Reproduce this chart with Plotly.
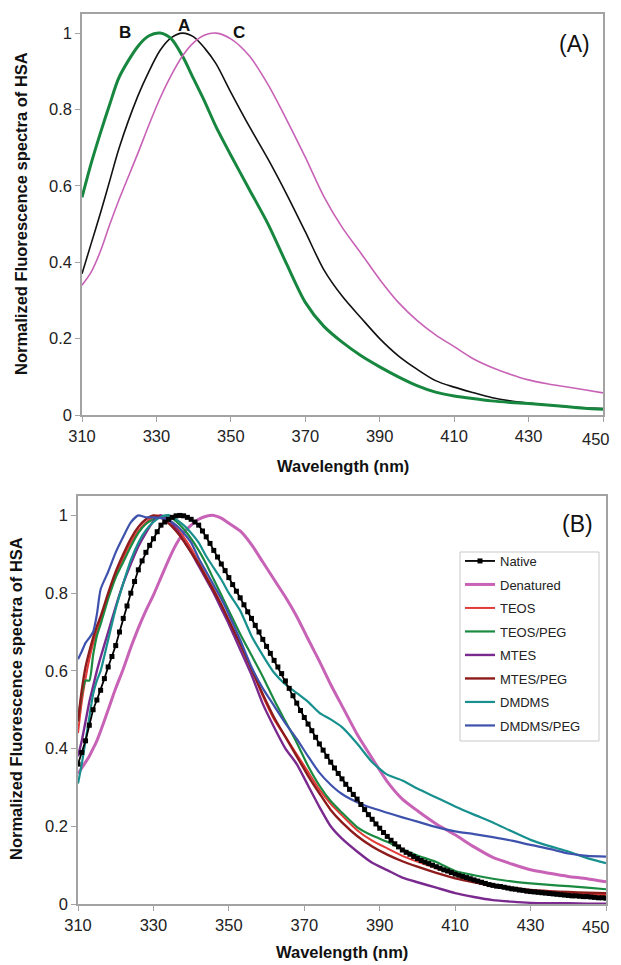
import plotly.graph_objects as go

# ---------------- data ----------------
X_TICKS = [310, 330, 350, 370, 390, 410, 430, 450]
X_TICK_TEXT = ["310", "330", "350", "370", "390", "410", "430", "450"]
Y_TICKS = [0, 0.2, 0.4, 0.6, 0.8, 1]
Y_TICK_TEXT = ["0", "0.2", "0.4", "0.6", "0.8", "1"]

# Panel (A)
WL_TOP = [310, 312.5, 315, 317.5, 320, 325, 328, 331, 334, 337, 340, 343, 346, 350, 355, 360, 365, 370,
          375, 380, 385, 390, 395, 400, 405, 410, 415, 420, 425, 430, 435, 440, 445, 450]
A_NATIVE = [0.37, 0.45, 0.53, 0.615, 0.70, 0.835, 0.90, 0.955, 0.988, 1.0, 0.99, 0.96, 0.92, 0.845, 0.755, 0.67, 0.578, 0.48,
            0.38, 0.31, 0.254, 0.20, 0.155, 0.12, 0.09, 0.073, 0.059, 0.046, 0.037, 0.031, 0.026, 0.022, 0.019, 0.017]
B_GREEN = [0.57, 0.66, 0.74, 0.815, 0.885, 0.965, 0.993, 1.0, 0.985, 0.94, 0.88, 0.82, 0.755, 0.68, 0.59, 0.50, 0.395, 0.295,
           0.232, 0.19, 0.155, 0.126, 0.10, 0.077, 0.06, 0.05, 0.043, 0.037, 0.033, 0.03, 0.026, 0.022, 0.018, 0.015]
C_PINK = [0.34, 0.375, 0.43, 0.50, 0.565, 0.685, 0.76, 0.83, 0.89, 0.94, 0.975, 0.995, 1.0, 0.985, 0.94, 0.865, 0.773, 0.675,
          0.572, 0.49, 0.423, 0.355, 0.295, 0.248, 0.21, 0.179, 0.148, 0.125, 0.107, 0.092, 0.082, 0.074, 0.066, 0.058]

# Panel (B): native sampled every nm (marker string)
WL_NATIVE = list(range(310, 451))
NATIVE = [0.36, 0.39, 0.42, 0.46, 0.50, 0.525, 0.55, 0.58, 0.61, 0.637,
          0.665, 0.70, 0.735, 0.767, 0.80, 0.83, 0.86, 0.883, 0.905, 0.923,
          0.94, 0.958, 0.975, 0.983, 0.99, 0.995, 0.999, 1.0, 0.999, 0.995,
          0.99, 0.983, 0.975, 0.96, 0.945, 0.928, 0.91, 0.893, 0.875, 0.858,
          0.84, 0.822, 0.805, 0.788, 0.77, 0.752, 0.735, 0.717, 0.70, 0.681,
          0.663, 0.645, 0.627, 0.61, 0.593, 0.574, 0.555, 0.536, 0.517, 0.498,
          0.48, 0.463, 0.446, 0.429, 0.412, 0.396, 0.38, 0.365, 0.35, 0.336,
          0.322, 0.308, 0.295, 0.282, 0.27, 0.256, 0.243, 0.23, 0.218, 0.206,
          0.195, 0.184, 0.174, 0.164, 0.155, 0.147, 0.139, 0.133, 0.128, 0.122,
          0.117, 0.112, 0.108, 0.104, 0.10, 0.096, 0.092, 0.088, 0.085, 0.081,
          0.077, 0.074, 0.071, 0.068, 0.065, 0.062, 0.059, 0.056, 0.053, 0.05,
          0.048, 0.046, 0.045, 0.043, 0.041, 0.039, 0.038, 0.036, 0.035, 0.033,
          0.032, 0.031, 0.030, 0.029, 0.028, 0.027, 0.026, 0.025, 0.024, 0.023,
          0.022, 0.021, 0.021, 0.020, 0.019, 0.019, 0.018, 0.017, 0.016, 0.016,
          0.015]

WL_B = [310, 311, 312, 313, 314, 315, 316, 318, 320, 322, 324, 326, 328, 330, 332, 334, 336, 338,
        340, 342, 344, 346, 348, 350, 353, 356, 359, 362, 365, 368, 371, 374, 377, 380, 384, 388,
        392, 396, 400, 405, 410, 415, 420, 425, 430, 435, 440, 445, 450]
DENATURED = [0.335, 0.35, 0.365, 0.38, 0.40, 0.42, 0.445, 0.50, 0.555, 0.605, 0.66, 0.71, 0.755, 0.795,
             0.84, 0.885, 0.925, 0.955, 0.975, 0.99, 0.998, 1.0, 0.993, 0.98, 0.96, 0.925, 0.88, 0.835,
             0.79, 0.74, 0.682, 0.625, 0.565, 0.51, 0.437, 0.375, 0.315, 0.27, 0.24, 0.206, 0.178, 0.147,
             0.12, 0.103, 0.088, 0.079, 0.071, 0.065, 0.057]
TEOS = [0.44, 0.52, 0.58, 0.63, 0.67, 0.70, 0.73, 0.79, 0.845, 0.89, 0.93, 0.96, 0.982, 0.996,
        1.0, 0.99, 0.97, 0.945, 0.915, 0.88, 0.845, 0.81, 0.77, 0.725, 0.67, 0.605, 0.535, 0.475,
        0.43, 0.385, 0.34, 0.295, 0.258, 0.228, 0.19, 0.163, 0.143, 0.124, 0.109, 0.092, 0.075, 0.058,
        0.045, 0.038, 0.032, 0.029, 0.027, 0.025, 0.023]
TEOS_PEG = [0.47, 0.54, 0.575, 0.575, 0.64, 0.69, 0.72, 0.785, 0.84, 0.88, 0.92, 0.955, 0.978, 0.99,
            0.998, 1.0, 0.985, 0.965, 0.94, 0.91, 0.875, 0.835, 0.795, 0.755, 0.695, 0.64, 0.585, 0.525,
            0.47, 0.415, 0.355, 0.305, 0.265, 0.235, 0.198, 0.176, 0.16, 0.141, 0.125, 0.108, 0.085, 0.074,
            0.065, 0.058, 0.053, 0.049, 0.046, 0.042, 0.038]
MTES = [0.38, 0.42, 0.47, 0.52, 0.56, 0.60, 0.635, 0.70, 0.765, 0.825, 0.875, 0.92, 0.955, 0.985,
        1.0, 0.99, 0.965, 0.935, 0.905, 0.87, 0.835, 0.80, 0.76, 0.72, 0.655, 0.59, 0.515, 0.455,
        0.40, 0.36, 0.305, 0.25, 0.20, 0.168, 0.135, 0.106, 0.087, 0.068, 0.056, 0.042, 0.028, 0.018,
        0.01, 0.006, 0.003, 0.002, 0.002, 0.001, 0.001]
MTES_PEG = [0.47, 0.55, 0.61, 0.65, 0.685, 0.715, 0.74, 0.80, 0.855, 0.90, 0.94, 0.97, 0.99, 1.0,
            0.995, 0.98, 0.96, 0.935, 0.905, 0.875, 0.84, 0.805, 0.77, 0.73, 0.67, 0.605, 0.54, 0.48,
            0.43, 0.38, 0.33, 0.285, 0.242, 0.21, 0.175, 0.148, 0.127, 0.11, 0.096, 0.08, 0.066, 0.056,
            0.048, 0.042, 0.036, 0.033, 0.031, 0.029, 0.028]
DMDMS = [0.31, 0.36, 0.42, 0.48, 0.54, 0.575, 0.60, 0.68, 0.76, 0.825, 0.885, 0.93, 0.962, 0.983,
         0.996, 1.0, 0.99, 0.975, 0.955, 0.93, 0.895, 0.865, 0.835, 0.80, 0.755, 0.69, 0.64, 0.595,
         0.565, 0.543, 0.52, 0.492, 0.475, 0.455, 0.413, 0.365, 0.333, 0.318, 0.297, 0.274, 0.251, 0.23,
         0.21, 0.187, 0.165, 0.149, 0.135, 0.118, 0.105]
DMDMS_PEG = [0.63, 0.65, 0.672, 0.685, 0.70, 0.745, 0.81, 0.855, 0.905, 0.945, 0.982, 1.0, 0.995, 0.995,
             0.993, 0.988, 0.975, 0.955, 0.93, 0.89, 0.855, 0.82, 0.785, 0.745, 0.68, 0.61, 0.555, 0.51,
             0.465, 0.425, 0.38, 0.338, 0.307, 0.283, 0.262, 0.247, 0.235, 0.223, 0.212, 0.198, 0.187, 0.18,
             0.172, 0.163, 0.152, 0.142, 0.13, 0.124, 0.122]

# ---------------- styling ----------------
FONT = "Liberation Sans, Arial, sans-serif"
AXIS_GRAY = "#a3a3a3"
PINK = "#c862b6"
TICK_SIZE = 16.5

fig = go.Figure()

# Panel A traces
fig.add_trace(go.Scatter(x=WL_TOP, y=A_NATIVE, mode="lines", line=dict(color="#111111", width=1.6, shape="spline", smoothing=0.8),
                         xaxis="x", yaxis="y", showlegend=False))
fig.add_trace(go.Scatter(x=WL_TOP, y=B_GREEN, mode="lines", line=dict(color="#17873f", width=3, shape="spline", smoothing=0.8),
                         xaxis="x", yaxis="y", showlegend=False))
fig.add_trace(go.Scatter(x=WL_TOP, y=C_PINK, mode="lines", line=dict(color=PINK, width=1.6, shape="spline", smoothing=0.8),
                         xaxis="x", yaxis="y", showlegend=False))

# Panel B traces
series_b = [
    ("Denatured", DENATURED, PINK, 3),
    ("TEOS", TEOS, "#e23a36", 2),
    ("TEOS/PEG", TEOS_PEG, "#1a8a40", 2.2),
    ("MTES", MTES, "#7a2a8e", 2.4),
    ("MTES/PEG", MTES_PEG, "#8e1b1b", 2.4),
    ("DMDMS", DMDMS, "#17908e", 2.2),
    ("DMDMS/PEG", DMDMS_PEG, "#3e52ad", 2.2),
]
for i, (name, vals, col, w) in enumerate(series_b):
    fig.add_trace(go.Scatter(x=WL_B, y=vals, mode="lines", name=name,
                             line=dict(color=col, width=w, shape="spline", smoothing=0.6),
                             xaxis="x2", yaxis="y2", legendgroup=name, legendrank=2 + i))
fig.add_trace(go.Scatter(x=WL_NATIVE, y=NATIVE, mode="lines+markers", name="Native",
                         line=dict(color="black", width=1.8),
                         marker=dict(symbol="square", size=5, color="black"),
                         xaxis="x2", yaxis="y2", legendgroup="Native", legendrank=1))

axis_common = dict(showline=True, linecolor=AXIS_GRAY, linewidth=1.5, mirror=True,
                   ticks="outside", ticklen=5, tickcolor=AXIS_GRAY, tickwidth=1.2,
                   showgrid=False, zeroline=False, automargin=False,
                   tickfont=dict(family=FONT, size=TICK_SIZE, color="#222222"))

# The page places the figure 8px in from the top-left corner (body margin); positions below
# are screen pixels.  Content right of x=613 is not shown by the page, so the last x tick
# label is drawn as a right-aligned annotation to keep it fully visible.
OFF = 8
W, H = 621 - OFF, 965 - OFF
def px_x(p):
    return (p - OFF) / W
def px_y(p):
    return 1 - (p - OFF) / H

x_ticktext = X_TICK_TEXT[:-1] + [""]

fig.update_layout(
    template="none",
    width=W, height=H, margin=dict(l=0, r=0, t=0, b=0, pad=0), autosize=False,
    paper_bgcolor="white", plot_bgcolor="white",
    font=dict(family=FONT, color="#222222"),
    xaxis=dict(domain=[px_x(82), px_x(603)], range=[310, 450], tickvals=X_TICKS, ticktext=x_ticktext,
               anchor="y", **axis_common),
    yaxis=dict(domain=[px_y(415), px_y(14)], range=[0, 1.05], tickvals=Y_TICKS, ticktext=Y_TICK_TEXT,
               anchor="x", **axis_common),
    xaxis2=dict(domain=[px_x(78), px_x(606)], range=[310, 450], tickvals=X_TICKS, ticktext=x_ticktext,
                anchor="y2", **axis_common),
    yaxis2=dict(domain=[px_y(904), px_y(496)], range=[0, 1.05], tickvals=Y_TICKS, ticktext=Y_TICK_TEXT,
                anchor="x2", **axis_common),
    legend=dict(x=px_x(460), y=px_y(546), xanchor="left", yanchor="top",
                bgcolor="rgba(0,0,0,0)", borderwidth=0,
                font=dict(family=FONT, size=13, color="#222222"),
                tracegroupgap=3.6, itemwidth=30, traceorder="grouped"),
    shapes=[dict(type="rect", xref="paper", yref="paper",
                 x0=px_x(460), x1=px_x(599), y0=px_y(741), y1=px_y(552),
                 fillcolor="white", line=dict(color="#c9c9c9", width=1), layer="above")],
)

def ann(text, x, y, size, bold=False, angle=0, xanchor="center", color="#111111"):
    return dict(text=("<b>%s</b>" % text) if bold else text, x=px_x(x), y=px_y(y), xref="paper", yref="paper",
                showarrow=False, textangle=angle, xanchor=xanchor, yanchor="middle",
                font=dict(family=FONT, size=size, color=color))

fig.update_layout(annotations=[
    ann("Wavelength (nm)", 343, 466, 16.5, bold=True),
    ann("Wavelength (nm)", 342, 952, 16.5, bold=True),
    ann("Normalized Fluorescence spectra of HSA", 21, 214, 16.5, bold=True, angle=-90),
    ann("Normalized Fluorescence spectra of HSA", 16, 699, 16.5, bold=True, angle=-90),
    ann("(A)", 574, 44, 23),
    ann("(B)", 577, 524, 23),
    ann("B", 125, 32, 17, bold=True),
    ann("A", 184, 25, 17, bold=True),
    ann("C", 239, 32, 17, bold=True),
    ann(X_TICK_TEXT[-1], 612, 439, TICK_SIZE, xanchor="right", color="#222222"),
    ann(X_TICK_TEXT[-1], 612, 927, TICK_SIZE, xanchor="right", color="#222222"),
])

fig.write_html("out.html")
